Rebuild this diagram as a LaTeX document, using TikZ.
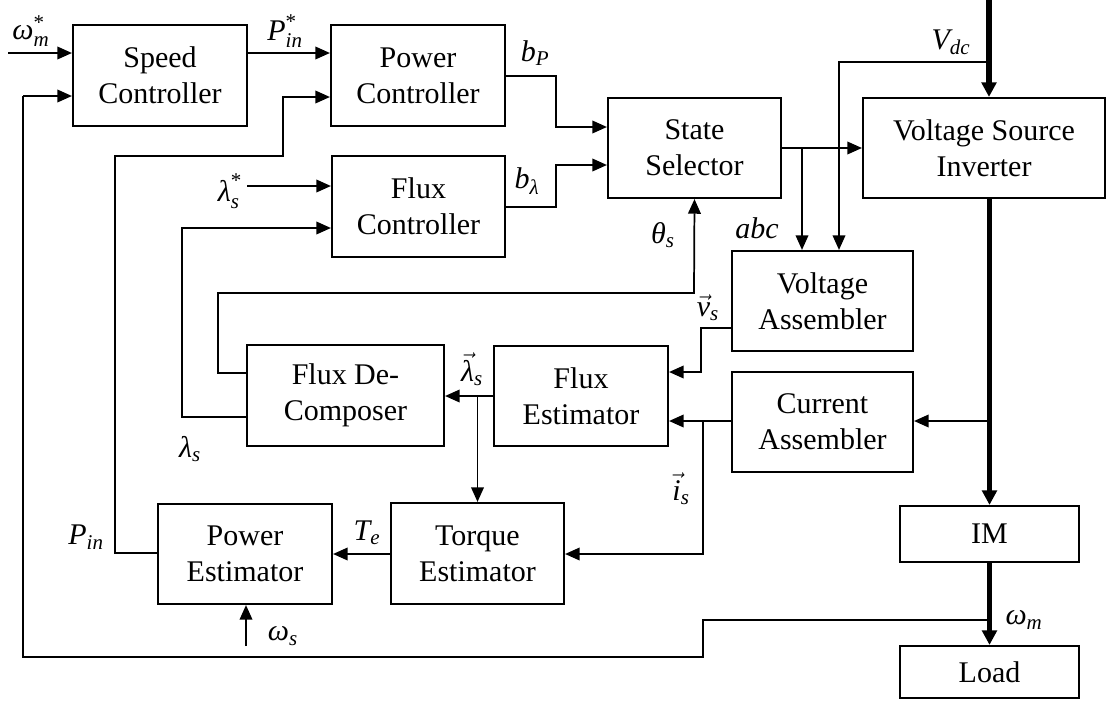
\documentclass[tikz,border=0pt]{standalone}
\usepackage{amsmath}
\usepackage{fontspec}
\setmainfont{Liberation Serif}
\usetikzlibrary{arrows.meta}
\newcommand{\ti}[1]{\text{\itshape #1}}
\tikzset{
  every node/.style={font=\fontsize{22.5pt}{27pt}\selectfont},
  blk/.style={draw, line width=1.6pt, inner sep=0pt, align=center},
  con/.style={line width=1.3pt},
  arr/.style={con, -{Triangle[length=11pt,width=9.5pt]}},
  thk/.style={line width=3.8pt},
  thkarr/.style={thk, -{Triangle[length=11pt,width=11pt]}},
  lbl/.style={inner sep=0pt}
}
\begin{document}
\begin{tikzpicture}[x=0.75pt,y=-0.75pt]
\useasboundingbox (0,0) rectangle (1107,700);
% blocks
\node[blk, minimum width=130.5pt, minimum height=75.75pt] (sc) at (160,75.5) {Speed\\Controller};
\node[blk, minimum width=130.5pt, minimum height=75.75pt] (pc) at (418,75.5) {Power\\Controller};
\node[blk, minimum width=129.75pt, minimum height=75pt] (ss) at (694.5,148) {State\\Selector};
\node[blk, minimum width=181.5pt, minimum height=75pt] (vsi) at (984,148) {Voltage Source\\Inverter};
\node[blk, minimum width=129.75pt, minimum height=75.75pt] (fc) at (418.5,206.5) {Flux\\Controller};
\node[blk, minimum width=135.75pt, minimum height=75pt] (va) at (822.5,301) {Voltage\\Assembler};
\node[blk, minimum width=147.75pt, minimum height=75.75pt] (fdc) at (345.5,395.5) {Flux De-\\Composer};
\node[blk, minimum width=130.5pt, minimum height=75pt] (fe) at (581,396) {Flux\\Estimator};
\node[blk, minimum width=135.75pt, minimum height=75pt] (ca) at (822.5,422) {Current\\Assembler};
\node[blk, minimum width=130.5pt, minimum height=75pt] (pe) at (245,554) {Power\\Estimator};
\node[blk, minimum width=129.75pt, minimum height=75.75pt] (te) at (477.5,553.5) {Torque\\Estimator};
\node[blk, minimum width=134.25pt, minimum height=42pt] (im) at (989.5,534) {IM};
\node[blk, minimum width=134.25pt, minimum height=39pt] (load) at (989.5,672) {Load};
% free ends
\coordinate (win) at (8,53);
\coordinate (lin) at (247,186);
\coordinate (vdc) at (989,0);
\coordinate (wsin) at (246,646);
% connectors
\draw[arr] (win) -- (win -| sc.west);
\draw[arr] (sc.east |- 0,53) -- (pc.west |- 0,53);
\draw[arr] (pc.east |- 0,76) -- (556,76) -- (556,127) -- (ss.west |- 0,127);
\draw[arr] (fc.east |- 0,207) -- (556,207) -- (556,165) -- (ss.west |- 0,165);
\draw[arr] (ss.east) -- (vsi.west);
\draw[arr] (802,148) -- (va.north -| 802,0);
\draw[thkarr] (vdc) -- (vsi.north -| vdc);
\draw[arr] (989,62) -- (839,62) -- (va.north -| 839,0);
\draw[thkarr] (vsi.south -| im.north) -- (im.north);
\draw[arr] (989,421) -- (ca.east |- 0,421);
\draw[thkarr] (im.south) -- (load.north);
\draw[con] (989,620) -- (703,620) -- (703,657) -- (23,657) -- (23,96);
\draw[arr] (23,96) -- (sc.west |- 0,96);
\draw[arr] (fdc.west |- 0,373) -- (218,373) -- (218,293) -- (694,293) -- (ss.south);
\draw[arr] (fdc.west |- 0,417) -- (182,417) -- (182,228) -- (fc.west |- 0,228);
\draw[arr] (lin) -- (fc.west |- lin);
\draw[arr] (va.west |- 0,328) -- (701,328) -- (701,372) -- (fe.east |- 0,372);
\draw[arr] (ca.west |- 0,421) -- (fe.east |- 0,421);
\draw[arr] (703,421) -- (703,554) -- (te.east |- 0,554);
\draw[arr] (fe.west |- 0,396) -- (fdc.east |- 0,396);
\draw[arr] (477.5,396) -- (te.north);
\draw[arr] (te.west |- 0,554) -- (pe.east |- 0,554);
\draw[arr] (pe.west |- 0,553) -- (115,553) -- (115,156) -- (283,156) -- (283,97) -- (pc.west |- 0,97);
\draw[arr] (wsin) -- (pe.south -| wsin);
% labels
\node[lbl] (l1) at (31,31) {$\ti{ω}^{\text{*}}_{\ti{m}}$};
\node[lbl] (l2) at (285,31) {$\ti{P}^{\text{*}}_{\ti{in}}$};
\node[lbl] (l3) at (535,53) {$\ti{b}_{\ti{P}}$};
\node[lbl] (l4) at (527,181) {$\ti{b}_{\ti{λ}}$};
\node[lbl] (l5) at (663,235) {$\ti{θ}_{\ti{s}}$};
\node[lbl] (l6) at (757,228) {\textit{abc}};
\node[lbl] (l7) at (951,42) {$\ti{V}_{\ti{dc}}$};
\node[lbl] (l8) at (230,191) {$\ti{λ}^{\text{*}}_{\ti{s}}$};
\node[lbl] (l9) at (708,308) {$\vec{\ti{v}}_{\ti{s}}$};
\node[lbl] (l10) at (472,369) {$\vec{\ti{λ}}_{\ti{s}}$};
\node[lbl] (l11) at (190,449) {$\ti{λ}_{\ti{s}}$};
\node[lbl] (l12) at (681,489) {$\vec{\ti{i}}_{\ti{s}}$};
\node[lbl] (l13) at (86,537) {$\ti{P}_{\ti{in}}$};
\node[lbl] (l14) at (367,533) {$\ti{T}_{\ti{e}}$};
\node[lbl] (l15) at (283,636) {$\ti{ω}_{\ti{s}}$};
\node[lbl] (l16) at (1024,620) {$\ti{ω}_{\ti{m}}$};
\end{tikzpicture}
\end{document}
